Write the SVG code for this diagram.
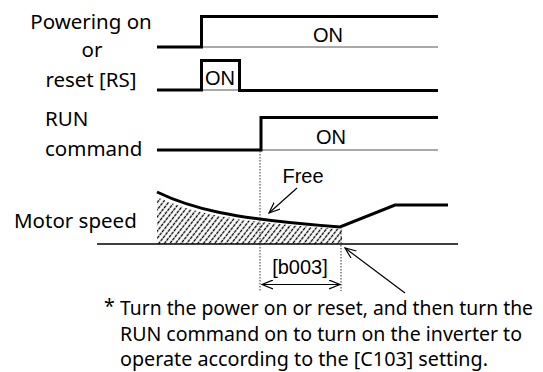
<svg xmlns="http://www.w3.org/2000/svg" width="543" height="372" viewBox="0 0 543 372">
<style>
.lbl{font-family:"Noto Sans","Liberation Sans",sans-serif;font-size:20.5px;fill:#000}
.arl{font-family:"Liberation Sans",Arial,sans-serif;font-size:20px;fill:#000}
.note{font-family:"Noto Sans","Liberation Sans",sans-serif;font-size:19.5px;fill:#000}
.thick{fill:none;stroke:#000;stroke-width:3;stroke-linejoin:miter}
.thin{fill:none;stroke:#555;stroke-width:1.2}
.axis{fill:none;stroke:#000;stroke-width:1.3}
.dot{fill:none;stroke:#333;stroke-width:1;stroke-dasharray:1.5 1.5}
.arrow{fill:none;stroke:#000;stroke-width:1.2}
</style>
<defs>
<marker id="head" viewBox="0 0 12 10" refX="11" refY="5" markerWidth="12" markerHeight="10" markerUnits="userSpaceOnUse" orient="auto-start-reverse">
<path d="M0,0.5 L11,5 L0,9.5" fill="none" stroke="#000" stroke-width="1.2"/>
</marker>
<pattern id="hatch" patternUnits="userSpaceOnUse" width="4.4" height="8" patternTransform="rotate(38)">
<line x1="2.2" y1="0" x2="2.2" y2="8" stroke="#000" stroke-width="1.3" stroke-dasharray="3.2 0.8"/>
</pattern>
<clipPath id="hclip">
<path d="M157,197 C190,212 230,222 340,229 L342,229 L342,244 L157,244 Z"/>
</clipPath>
</defs>

<g id="power">
<text class="lbl" x="91" y="29" text-anchor="middle">Powering on</text>
<text class="lbl" x="92" y="57" text-anchor="middle">or</text>
<polyline class="thin" points="200,47 438,47"/>
<polyline class="thick" points="157,47 201.5,47 201.5,16.5 438,16.5"/>
<text class="arl" x="328" y="42" text-anchor="middle">ON</text>
</g>

<g id="reset">
<text class="lbl" x="91" y="87" text-anchor="middle">reset [RS]</text>
<polyline class="thin" points="200,90 240,90"/>
<polyline class="thick" points="157,90 201.5,90 201.5,60.5 239.5,60.5 239.5,90.5 438,90.5"/>
<text class="arl" x="220" y="85" text-anchor="middle">ON</text>
</g>

<g id="run">
<text class="lbl" x="45" y="126">RUN</text>
<text class="lbl" x="45" y="156">command</text>
<polyline class="thin" points="260,150 438,150"/>
<polyline class="thick" points="157,150 261,150 261,117.5 438,117.5"/>
<text class="arl" x="331" y="144" text-anchor="middle">ON</text>
</g>

<g id="motor">
<text class="lbl" x="14" y="228">Motor speed</text>
<rect x="150" y="185" width="200" height="60" fill="url(#hatch)" clip-path="url(#hclip)"/>
<line class="axis" x1="97" y1="244" x2="458" y2="244"/>
<path class="thick" d="M157,192 C190,208 230,219 340,227 L395,205 L448,205"/>
<line class="dot" x1="260" y1="151" x2="260" y2="291"/>
<line class="dot" x1="341" y1="227" x2="341" y2="291"/>
<text class="arl" x="303" y="183" text-anchor="middle">Free</text>
<text class="arl" x="300" y="274" text-anchor="middle" font-size="21">[b003]</text>
</g>

<g id="connectors">
<line class="arrow" x1="297" y1="188" x2="269" y2="213" marker-end="url(#head)"/>
<line class="arrow" x1="262" y1="284.5" x2="340" y2="284.5" marker-start="url(#head)" marker-end="url(#head)"/>
<line class="arrow" x1="405" y1="293" x2="345" y2="248" marker-end="url(#head)"/>
</g>

<g id="note">
<text class="note" x="104" y="313" font-size="14">*</text>
<text class="note" x="120" y="315" textLength="413" lengthAdjust="spacingAndGlyphs">Turn the power on or reset, and then turn the</text>
<text class="note" x="120" y="341" textLength="402" lengthAdjust="spacingAndGlyphs">RUN command on to turn on the inverter to</text>
<text class="note" x="120" y="366" textLength="368" lengthAdjust="spacingAndGlyphs">operate according to the [C103] setting.</text>
</g>
</svg>
